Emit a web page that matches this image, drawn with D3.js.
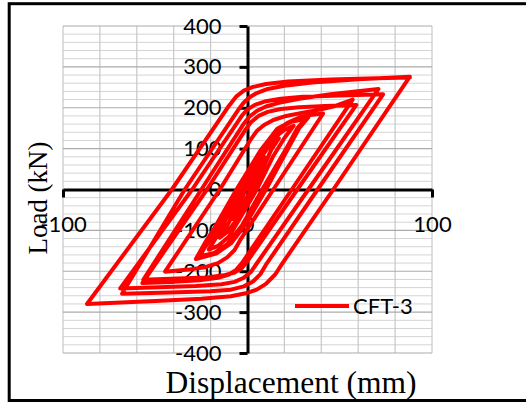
<!DOCTYPE html>
<html>
<head>
<meta charset="utf-8">
<script src="https://cdn.jsdelivr.net/npm/d3@7"></script>
<style>
  html, body { margin: 0; padding: 0; background: #fff; }
  svg { display: block; }
</style>
</head>
<body>
<svg id="chart" width="526" height="402"></svg>
<script>
// Axis ticks and labels
const xTicks = [-100, 0, 100];
const xTickLabels = ["-100", "0", "100"];
const yTicks = [400, 300, 200, 100, 0, -100, -200, -300, -400];
const yTickLabels = ["400", "300", "200", "100", "0", "-100", "-200", "-300", "-400"];
const seriesName = "CFT-3";

// Load–displacement history, one array per cycle: [displacement (mm), load (kN)]
const cycle01 = [[0,0],[4,38],[9,80],[6,52],[2,0],[-4,-48],[-8,-72],[-5,-42],[-1,0]];
const cycle02 = [[-1,0],[6,70],[12,108],[17,125],[13,98],[3,0],[-6,-75],[-11,-104],[-15,-118],[-10,-80],[-2,0]];
const cycle03 = [[-2,0],[7,80],[14,125],[20,146],[25,156],[20,126],[14,82],[5,0],[-4,-70],[-10,-115],[-16,-138],[-21,-147],[-16,-110],[-8,-40],[-3,0]];
const cycle04 = [[-3,0],[7.7,100],[16.5,150],[24,167],[32,175],[27,150],[21,100],[8,0],[-3,-90],[-11,-135],[-18,-156],[-27,-166],[-22,-135],[-17,-100],[-5,0]];
const cycle05 = [[-5,0],[8,100],[17,150],[25,168],[33,177],[28,150],[22,100],[10,0],[-1,-85],[-9,-132],[-17,-157],[-28,-170],[-23,-130],[-18,-95],[-6,0]];
const cycle06 = [[-6,0],[7,95],[16,148],[24,166],[31,172],[27,148],[21,100],[8,0],[-3,-88],[-11,-134],[-18,-155],[-26,-164],[-21,-125],[-10,-40],[-4,0]];
const cycle07 = [[-4,0],[6,80],[12,122],[17,148],[22,164],[28,176],[34,182],[41,186],[14,0],[-4,-124],[-7,-148],[-11,-166],[-16,-180],[-23,-190],[-32,-196],[-44.7,-201],[-15,0]];
const cycle08 = [[-15,0],[2,124],[5,143],[9,158],[14,170],[21,180],[30,188],[40,196],[48,205],[57,220],[24,0],[-3,-180],[-6,-196],[-10,-208],[-16,-216],[-26,-222],[-40,-226],[-57,-229],[-22,0]];
const cycle09 = [[-22,0],[-1,147],[2,165],[6,180],[11,190],[18,197],[28,201],[42,204],[59,207],[27,0],[0,-175],[-3,-192],[-7,-203],[-13,-210],[-22,-215],[-38,-218],[-56.5,-221],[-25,0]];
const cycle10 = [[-25,0],[-2,161],[1,178],[5,192],[10,203],[17,212],[28,222],[45,233],[71,246],[33,0],[5,-181],[2,-201],[-2,-216],[-7,-226],[-14,-232],[-28,-236],[-48,-239],[-69,-242],[-30,0]];
const cycle11 = [[-30,0],[-3,181],[0,196],[4,207],[10,216],[18,222],[30,227],[50,230],[73.5,233],[38,0],[10,-184],[7,-207],[3,-225],[-2,-237],[-9,-245],[-20,-249],[-42,-252],[-68,-255],[-34,0]];
const cycle12 = [[-34,0],[-5,195],[-2,213],[1,225],[5,236],[11,246],[20,254],[35,262],[60,270],[88,276],[46.5,0],[19,-180],[15,-208],[10,-231],[5,-245],[-1,-254],[-9,-261],[-25,-267],[-50,-273],[-87,-280],[-41,0]];
const cycle13 = [[-41,0],[-10,205],[-6,228],[-2,242],[3,251],[10,258],[22,264],[45,269],[70,272],[88,274]];

const cycles = [cycle01, cycle02, cycle03, cycle04, cycle05, cycle06, cycle07,
                cycle08, cycle09, cycle10, cycle11, cycle12, cycle13];

const svg = d3.select("#chart");
const W = 526, H = 402;

svg.append("rect").attr("width", W).attr("height", H).attr("fill", "#fff");

// Plot area
const plot = { left: 63, right: 432, top: 26, bottom: 353 };
const x = d3.scaleLinear().domain([-100, 100]).range([plot.left, plot.right]);
const y = d3.scaleLinear().domain([-400, 400]).range([plot.bottom, plot.top]);

// Gridlines
const grid = svg.append("g");
grid.selectAll("line.hminor")
  .data(y.ticks(40).filter(v => v % 100 !== 0))
  .join("line")
  .attr("x1", plot.left).attr("x2", plot.right)
  .attr("y1", d => y(d)).attr("y2", d => y(d))
  .attr("stroke", "#d4d4d4").attr("stroke-width", 1);
grid.selectAll("line.vgrid")
  .data(x.ticks(10))
  .join("line")
  .attr("x1", d => x(d)).attr("x2", d => x(d))
  .attr("y1", plot.top).attr("y2", plot.bottom)
  .attr("stroke", "#c8c8c8").attr("stroke-width", 1.2);
grid.selectAll("line.hmajor")
  .data(y.ticks(8))
  .join("line")
  .attr("x1", plot.left).attr("x2", plot.right)
  .attr("y1", d => y(d)).attr("y2", d => y(d))
  .attr("stroke", "#ababab").attr("stroke-width", 1.2);

// Axis titles
svg.append("text")
  .attr("x", 291).attr("y", 393)
  .attr("text-anchor", "middle")
  .attr("font-family", "'Liberation Serif', 'Times New Roman', serif")
  .attr("font-size", 31.5)
  .attr("fill", "#000")
  .text("Displacement (mm)");

svg.append("text")
  .attr("transform", "translate(47,198) rotate(-90)")
  .attr("text-anchor", "middle")
  .attr("font-family", "'Liberation Serif', 'Times New Roman', serif")
  .attr("font-size", 27)
  .attr("fill", "#000")
  .text("Load (kN)");

const tickFont = "Lato, 'Open Sans', sans-serif";

// Y axis through x = 0
const yAxis = d3.axisLeft(y)
  .tickValues(yTicks)
  .tickFormat((d, i) => yTickLabels[i])
  .tickSize(8)
  .tickSizeOuter(0)
  .tickPadding(18);
const gy = svg.append("g").attr("transform", `translate(${x(0)},0)`).call(yAxis);
gy.select(".domain").attr("stroke", "#000").attr("stroke-width", 3);
gy.selectAll(".tick line").attr("stroke", "#000").attr("stroke-width", 3);
gy.selectAll(".tick text")
  .attr("font-family", tickFont).attr("font-size", 22).attr("fill", "#000");

// X axis through y = 0
const xAxis = d3.axisBottom(x)
  .tickValues(xTicks)
  .tickFormat((d, i) => xTickLabels[i])
  .tickSize(8)
  .tickSizeOuter(0);
const gx = svg.append("g").attr("transform", `translate(0,${y(0)})`).call(xAxis);
gx.select(".domain").attr("stroke", "#000").attr("stroke-width", 3);
gx.selectAll(".tick line").attr("stroke", "#000").attr("stroke-width", 3);
gx.selectAll(".tick text")
  .attr("y", 34.5).attr("dy", "0.35em")
  .attr("font-family", tickFont).attr("font-size", 22).attr("fill", "#000");

// Hysteresis curve
const line = d3.line()
  .x(d => x(d[0]))
  .y(d => y(d[1]))
  .curve(d3.curveLinear);

svg.append("path")
  .datum(cycles.flat())
  .attr("d", line)
  .attr("fill", "none")
  .attr("stroke", "#ff0000")
  .attr("stroke-width", 4)
  .attr("stroke-linejoin", "round")
  .attr("stroke-linecap", "round");

// Legend
const legend = svg.append("g").attr("transform", "translate(295,306)");
legend.append("line")
  .attr("x1", 0).attr("x2", 54).attr("y1", 0).attr("y2", 0)
  .attr("stroke", "#ff0000").attr("stroke-width", 4);
legend.append("text")
  .attr("x", 58).attr("y", 0).attr("dy", "0.35em")
  .attr("font-family", tickFont).attr("font-size", 22).attr("fill", "#000")
  .text(seriesName);

// Chart frame
svg.append("rect")
  .attr("x", 9.2).attr("y", 3.7)
  .attr("width", 540).attr("height", 396.8)
  .attr("fill", "none").attr("stroke", "#000").attr("stroke-width", 3);
</script>
</body>
</html>
